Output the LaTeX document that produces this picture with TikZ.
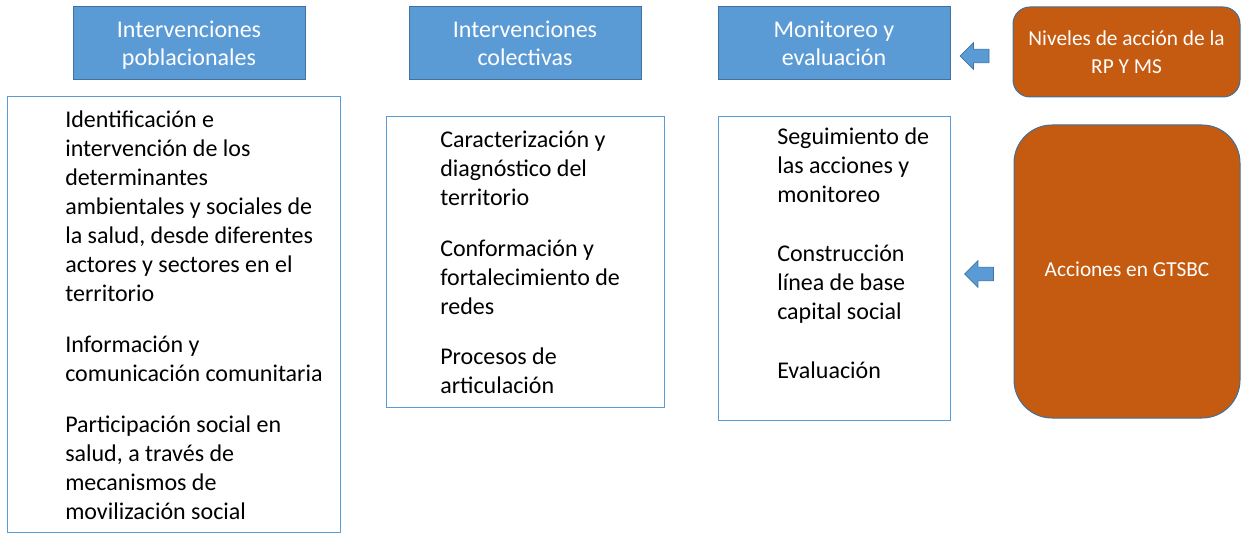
\documentclass[tikz,border=0pt]{standalone}
\usepackage{fontspec}
\setmainfont{Carlito}
\usetikzlibrary{shapes.arrows}
\definecolor{azul}{HTML}{5B9BD5}
\definecolor{azulborde}{HTML}{41719C}
\definecolor{naranja}{HTML}{C55A11}
\tikzset{
  hdr/.style={draw=azulborde, fill=azul, text=white, line width=0.75pt,
    minimum width=174pt, minimum height=54.75pt, align=center,
    text depth=0pt, font=\fontsize{18}{21}\selectfont},
  caja/.style={draw=azul, fill=white, line width=0.75pt, inner sep=0pt},
  lista/.style={anchor=north west, inner sep=0pt, align=left,
    font=\fontsize{18}{21.75}\selectfont},
  accion/.style={draw=azulborde, fill=naranja, text=white, line width=0.75pt,
    align=center, font=\fontsize{16}{21}\selectfont},
  flecha/.style={single arrow, shape border rotate=180, draw=azulborde,
    fill=azul, line width=0.5pt, inner xsep=0pt, inner ysep=4.9pt,
    minimum height=21.75pt, single arrow head extend=4.9pt}
}
\begin{document}
\begin{tikzpicture}[x=0.75pt,y=-0.75pt]
  \useasboundingbox (0,0) rectangle (1241,534);
  % Encabezados
  \node[hdr] (pob) at (189,43.5) {Intervenciones\\poblacionales};
  \node[hdr] (col) at (525,43.5) {Intervenciones\\colectivas};
  \node[hdr] (mon) at (834,43.5) {Monitoreo y\\evaluación};
  % Cajas de contenido
  \node[caja, minimum width=249.75pt, minimum height=326.25pt] (cajapob) at (173.5,314.5) {};
  \node[caja, minimum width=208.5pt, minimum height=217.5pt] (cajacol) at (525,262) {};
  \node[caja, minimum width=174pt, minimum height=227.25pt] (cajamon) at (834,268.5) {};
  \node[lista] (txtpob) at (65,111) {Identificación e\\intervención de los\\determinantes\\ambientales y sociales de\\la salud, desde diferentes\\actores y sectores en el\\territorio\\[16pt]Información y\\comunicación comunitaria\\[17pt]Participación social en\\salud, a través de\\mecanismos de\\movilización social};
  \node[lista] (txtcol) at (440,131) {Caracterización y\\diagnóstico del\\territorio\\[16pt]Conformación y\\fortalecimiento de\\redes\\[16pt]Procesos de\\articulación};
  \node[lista] (txtmon) at (777,128) {Seguimiento de\\las acciones y\\monitoreo\\[22.5pt]Construcción\\línea de base\\capital social\\[22.5pt]Evaluación};
  % Niveles y acciones
  \node[accion, minimum width=170.25pt, minimum height=67.5pt, rounded corners=12.75pt, text depth=0pt] (niveles) at (1126.5,52) {Niveles de acción de la\\RP Y MS};
  \node[accion, minimum width=169.5pt, minimum height=219.75pt, rounded corners=28.5pt, text depth=4pt] (gtsbc) at (1127,271.5) {Acciones en GTSBC};
  \node[flecha] (fl1) at (978,56) {};
  \node[flecha] (fl2) at (982.5,274) {};
\end{tikzpicture}
\end{document}
